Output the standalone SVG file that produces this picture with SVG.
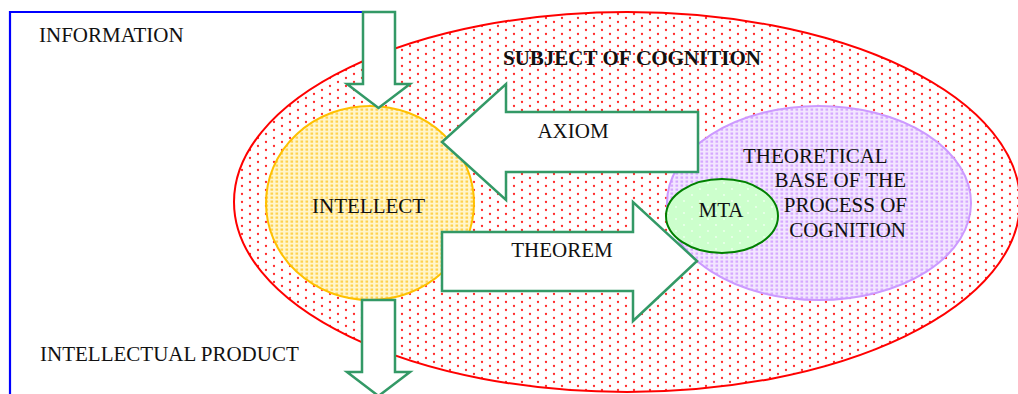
<svg xmlns="http://www.w3.org/2000/svg" width="1018" height="394" viewBox="0 0 1018 394">
<style>
text{font-family:"Liberation Serif","Times New Roman",serif;font-size:21px;fill:#111}
.arrow{fill:#fff;stroke:#339966;stroke-width:2.5;stroke-linejoin:miter}
.bold{font-weight:bold}
</style>
<defs>
<pattern id="redDots" width="16" height="8" patternUnits="userSpaceOnUse">
<rect width="16" height="8" fill="#fff"/>
<circle cx="2" cy="2" r="1.15" fill="#ff2a2a"/>
<circle cx="10" cy="6" r="1.15" fill="#ff2a2a"/>
</pattern>
<pattern id="yelDots" width="5" height="4" patternUnits="userSpaceOnUse">
<rect width="5" height="4" fill="#fff6cc"/>
<rect x="0.5" y="0.5" width="2.6" height="2.2" fill="#ffd24d"/>
</pattern>
<pattern id="purDots" width="5" height="4" patternUnits="userSpaceOnUse">
<rect width="5" height="4" fill="#f3e6ff"/>
<rect x="0.5" y="0.5" width="2.6" height="2.2" fill="#d5a8ff"/>
</pattern>
<pattern id="grnDots" width="16" height="12" patternUnits="userSpaceOnUse">
<rect width="16" height="12" fill="#ccffcc"/>
<circle cx="4" cy="3" r="0.9" fill="#f2fff2"/>
<circle cx="12" cy="9" r="0.9" fill="#f2fff2"/>
</pattern>
</defs>
<g id="frame">
<polyline points="363,12 10,12 10,394" fill="none" stroke="#0000ff" stroke-width="2.2"/>
</g>
<g id="subject">
<ellipse cx="627" cy="202" rx="393" ry="190" fill="url(#redDots)" stroke="#ff0000" stroke-width="2"/>
<text x="503" y="65" class="bold">SUBJECT OF COGNITION</text>
</g>
<g id="intellect">
<ellipse cx="370" cy="203" rx="104" ry="97" fill="url(#yelDots)" stroke="#ffc000" stroke-width="2"/>
<text x="312" y="213">INTELLECT</text>
</g>
<g id="theory">
<ellipse cx="819" cy="203" rx="152" ry="97" fill="url(#purDots)" stroke="#cc99ff" stroke-width="2"/>
<text x="743" y="163">THEORETICAL</text>
<text x="906" y="187" text-anchor="end">BASE OF THE</text>
<text x="907" y="212" text-anchor="end">PROCESS OF</text>
<text x="906" y="237" text-anchor="end">COGNITION</text>
</g>
<g id="mta">
<ellipse cx="722" cy="216" rx="56" ry="37" fill="url(#grnDots)" stroke="#008000" stroke-width="2"/>
<text x="721" y="217" text-anchor="middle">MTA</text>
</g>
<g id="connectors">
<polygon class="arrow" points="363,12 395,12 395,84 410,84 378.5,108 347,84 363,84"/>
<polygon class="arrow" points="362,300 395,300 395,372 410,372 378.5,396 347,372 362,372"/>
<polygon class="arrow" points="698,112 698,172 506,172 506,200 442,142 506,84 506,112"/>
<polygon class="arrow" points="442,232 633,232 633,202 697,261 633,321 633,291 442,291"/>
<text x="573" y="138" text-anchor="middle">AXIOM</text>
<text x="562" y="257" text-anchor="middle">THEOREM</text>
</g>
<g id="labels">
<text x="39" y="42">INFORMATION</text>
<text x="40" y="361">INTELLECTUAL PRODUCT</text>
</g>
</svg>
